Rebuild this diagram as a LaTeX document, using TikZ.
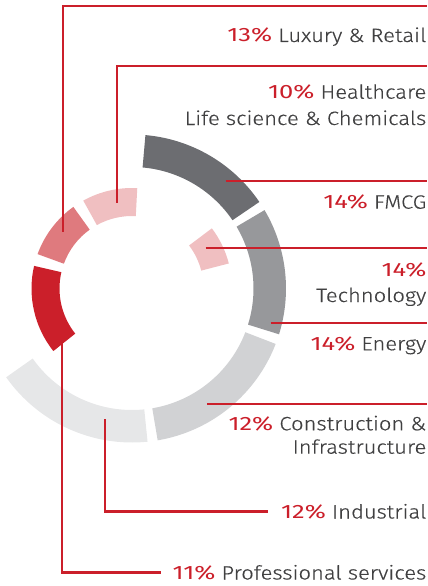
\documentclass[tikz,border=0pt]{standalone}
\usepackage{fontspec}
\setmainfont{Fira Sans}[UprightFont={* Light},UprightFeatures={FakeBold=0.4},BoldFont={*},FakeStretch=1.14]
\newfontfamily\pctfont{Fira Sans}[FakeStretch=1.32]
\definecolor{cred}{HTML}{CB1F2A}
\definecolor{clux}{HTML}{DF7A7E}
\definecolor{chealth}{HTML}{F0BFC1}
\definecolor{cfmcg}{HTML}{6C6D71}
\definecolor{cenergy}{HTML}{97989B}
\definecolor{cconst}{HTML}{D1D2D4}
\definecolor{cind}{HTML}{E6E7E8}
\definecolor{ctext}{HTML}{404041}
\newcommand\redpct[1]{{\pctfont\color{cred}#1}}
\newcommand\ringseg[5]{\fill[#1,shift={(132,288.5)}] (#2:#5) arc[start angle=#2,end angle=#3,radius=#5] -- (#3:#4) arc[start angle=#3,end angle=#2,radius=#4] -- cycle;}
\begin{document}
\begin{tikzpicture}[x=1pt,y=-1pt,
  lead/.style={draw=cred,line width=2.3pt},
  lab/.style={inner sep=0pt,anchor=base east,font=\fontsize{19.3}{26}\selectfont,text=ctext}]
\useasboundingbox (0,0) rectangle (428,586);
% ring segments
\ringseg{chealth}{-87}{-119}{72.5}{100.5}
\ringseg{clux}{-125.7}{-160}{72.5}{100.5}
\ringseg{cred}{-167}{-218.5}{72.5}{100.5}
\ringseg{chealth}{-14.5}{-37}{71.5}{100}
\ringseg{cfmcg}{-34.2}{-85}{121.5}{154}
\ringseg{cenergy}{17.3}{-30.6}{121.5}{154}
\ringseg{cconst}{80.4}{21.1}{121.5}{154}
\ringseg{cind}{144.8}{84.2}{121.5}{154}
% labels
\node[lab] (luxlab) at (426.5,42) {\redpct{13\%} Luxury \& Retail};
\node[lab] (hclab) at (426.5,98.7) {\redpct{10\%} Healthcare};
\node[lab] (hclabb) at (426.5,125) {Life science \& Chemicals};
\node[lab] (fmlab) at (426.5,208.7) {\redpct{14\%} FMCG};
\node[lab] (telab) at (426.5,276) {\redpct{14\%}};
\node[lab] (telabb) at (426.5,302) {Technology};
\node[lab] (enlab) at (426.5,350.3) {\redpct{14\%} Energy};
\node[lab] (colab) at (426.5,430.3) {\redpct{12\%} Construction \&};
\node[lab] (colabb) at (426.5,453.7) {Infrastructure};
\node[lab] (indlab) at (426.5,518.5) {\redpct{12\%} Industrial};
\node[lab] (proflab) at (426.5,579.5) {\redpct{11\%} Professional services};
% leader lines
\coordinate (luxs) at (62.7,231.5);
\coordinate (luxe) at (426.5,6);
\coordinate (hcs) at (116.7,202.5);
\coordinate (hce) at (426.5,66);
\coordinate (fms) at (225.7,180.7);
\coordinate (fme) at (426.5,180.7);
\coordinate (tes) at (205.7,248);
\coordinate (tee) at (426.5,248);
\coordinate (ens) at (270.7,323.3);
\coordinate (ene) at (426.5,323.3);
\coordinate (cos) at (207.3,404.3);
\coordinate (coe) at (426.5,404.3);
\coordinate (inds) at (105.3,419.3);
\coordinate (profs) at (61.7,335);
\draw[lead] (luxs) |- (luxe);
\draw[lead] (hcs) |- (hce);
\draw[lead] (fms) -- (fme);
\draw[lead] (tes) -- (tee);
\draw[lead] (ens) -- (ene);
\draw[lead] (cos) -- (coe);
\draw[lead,shorten >=13pt] (inds) |- (indlab.west);
\draw[lead,shorten >=11pt] (profs) |- (proflab.west);
\end{tikzpicture}
\end{document}
